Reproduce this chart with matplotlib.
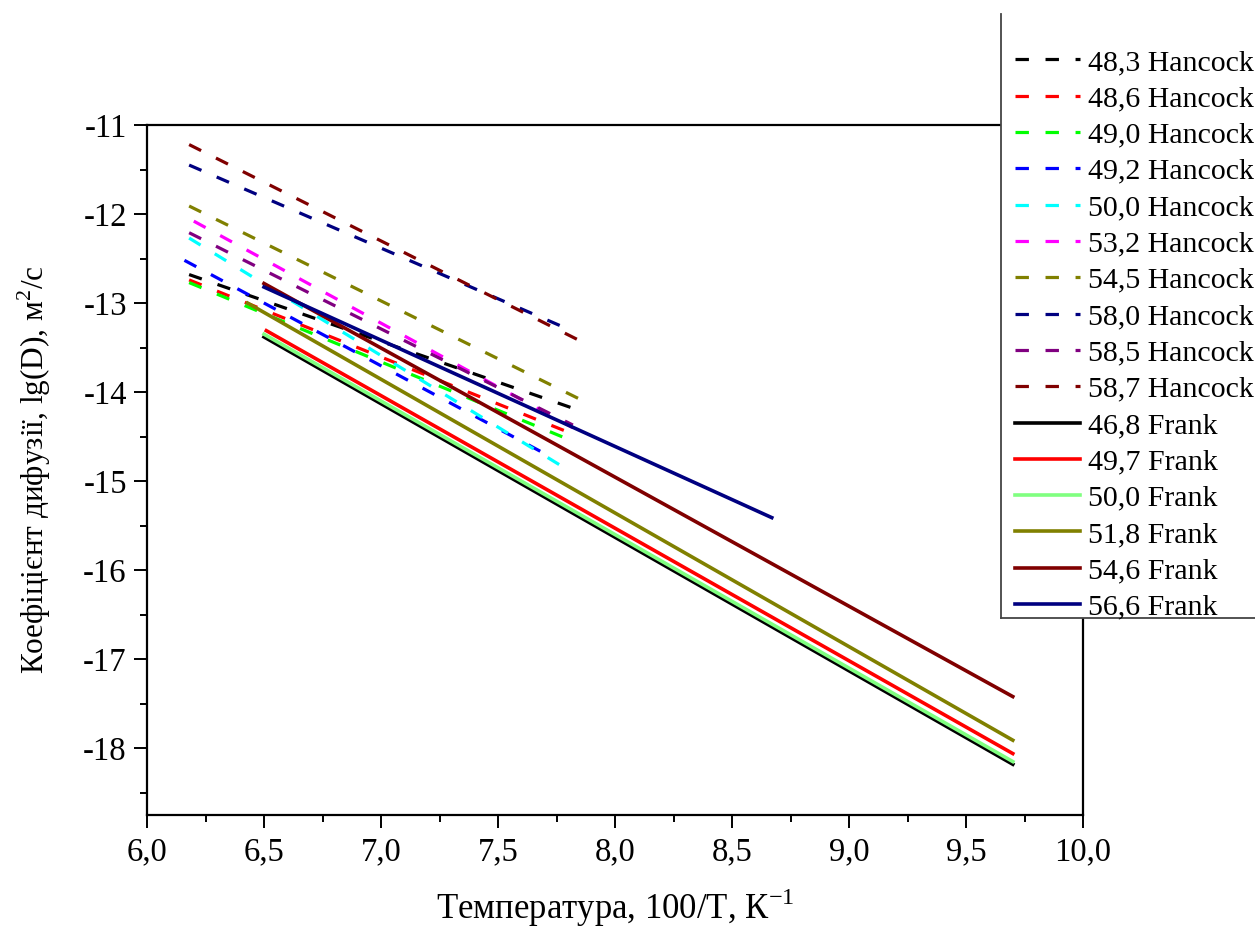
import numpy as np
import matplotlib
matplotlib.use('Agg')
import matplotlib.pyplot as plt
from matplotlib.ticker import MultipleLocator, FuncFormatter
from matplotlib.patches import Rectangle
from matplotlib.lines import Line2D

plt.rcParams['font.family'] = ['Liberation Serif', 'DejaVu Serif']
plt.rcParams['mathtext.fontset'] = 'custom'
plt.rcParams['mathtext.rm'] = 'Liberation Serif'
plt.rcParams['axes.unicode_minus'] = False

# Hancock series (dashed): start and end points of each fitted line
hancock_labels = ['48,3 Hancock', '48,6 Hancock', '49,0 Hancock', '49,2 Hancock', '50,0 Hancock',
                  '53,2 Hancock', '54,5 Hancock', '58,0 Hancock', '58,5 Hancock', '58,7 Hancock']
hancock_colors = ['#000000', '#ff0000', '#00ff00', '#0000ff', '#00ffff',
                  '#ff00ff', '#808000', '#000080', '#800080', '#800000']
hancock_x0 = [6.18, 6.18, 6.18, 6.16, 6.18, 6.20, 6.18, 6.18, 6.18, 6.18]
hancock_x1 = [7.83, 7.80, 7.80, 7.72, 7.79, 7.82, 7.85, 7.78, 7.82, 7.84]
hancock_y0 = [-12.68, -12.74, -12.77, -12.52, -12.27, -12.08, -11.91, -11.45, -12.21, -11.22]
hancock_y1 = [-14.19, -14.45, -14.53, -14.72, -14.86, -14.40, -14.08, -13.27, -14.37, -13.41]

# Frank series (solid)
frank_labels = ['46,8 Frank', '49,7 Frank', '50,0 Frank', '51,8 Frank', '54,6 Frank', '56,6 Frank']
frank_colors = ['#000000', '#ff0000', '#80ff80', '#808000', '#800000', '#000080']
frank_x0 = [6.50, 6.51, 6.50, 6.43, 6.50, 6.50]
frank_x1 = [9.70, 9.70, 9.70, 9.70, 9.70, 8.67]
frank_y0 = [-13.38, -13.31, -13.35, -13.00, -12.78, -12.82]
frank_y1 = [-18.18, -18.06, -18.15, -17.91, -17.42, -15.41]

W, H = 1255, 927
fig = plt.figure(figsize=(W / 100, H / 100), dpi=100)
ax = fig.add_axes([147 / W, 1 - 815 / H, (1083 - 147) / W, (815 - 125) / H])

for i in range(len(hancock_labels)):
    ax.plot([hancock_x0[i], hancock_x1[i]], [hancock_y0[i], hancock_y1[i]],
            color=hancock_colors[i], lw=2.3, dashes=(4.2, 5.2), label=hancock_labels[i])

for i in range(len(frank_labels)):
    ax.plot([frank_x0[i], frank_x1[i]], [frank_y0[i], frank_y1[i]],
            color=frank_colors[i], lw=2.6, label=frank_labels[i])

ax.set_xlim(6.0, 10.0)
ax.set_ylim(-18.75, -11.0)
ax.xaxis.set_major_locator(MultipleLocator(0.5))
ax.xaxis.set_minor_locator(MultipleLocator(0.25))
ax.yaxis.set_major_locator(MultipleLocator(1))
ax.yaxis.set_minor_locator(MultipleLocator(0.5))
ax.xaxis.set_major_formatter(FuncFormatter(lambda v, p: ('%.1f' % v).replace('.', ',')))
ax.yaxis.set_major_formatter(FuncFormatter(lambda v, p: '%d' % round(v)))

ax.tick_params(which='both', direction='out', width=1.4, labelsize=23.5, top=False, right=False)
ax.tick_params(which='major', length=9.5)
ax.tick_params(axis='x', which='major', pad=6)
ax.tick_params(axis='y', which='major', pad=5)
ax.tick_params(which='minor', length=5)
for s in ax.spines.values():
    s.set_linewidth(1.6)

ax.set_xlabel('Температура, 100/T, К$^{\\mathrm{-1}}$', fontsize=25, labelpad=14)
ax.set_ylabel('Коефіцієнт дифузії, lg(D), м$^{\\mathrm{2}}$/с', fontsize=22.5, labelpad=22)

# legend box: white panel with left and bottom edges, running off the right side
fig.add_artist(Rectangle((1001 / W, 1 - 618 / H), (W - 1001) / W, (618 - 14) / H,
                         transform=fig.transFigure, facecolor='white', edgecolor='none', zorder=4))
fig.add_artist(Line2D([1001 / W, 1001 / W], [1 - 14 / H, 1 - 618 / H], transform=fig.transFigure,
                      color='#444444', lw=1.3, zorder=4.5))
fig.add_artist(Line2D([1001 / W, 1], [1 - 618 / H, 1 - 618 / H], transform=fig.transFigure,
                      color='#444444', lw=1.3, zorder=4.5))

leg = fig.legend(loc='upper left', bbox_to_anchor=(1015 / W, 1 - 49 / H),
                 fontsize=21.5, frameon=False, handlelength=2.18,
                 handletextpad=0.27, labelspacing=0.315, borderpad=0, borderaxespad=0)
leg.set_zorder(6)

fig.savefig('out.png', dpi=100)
